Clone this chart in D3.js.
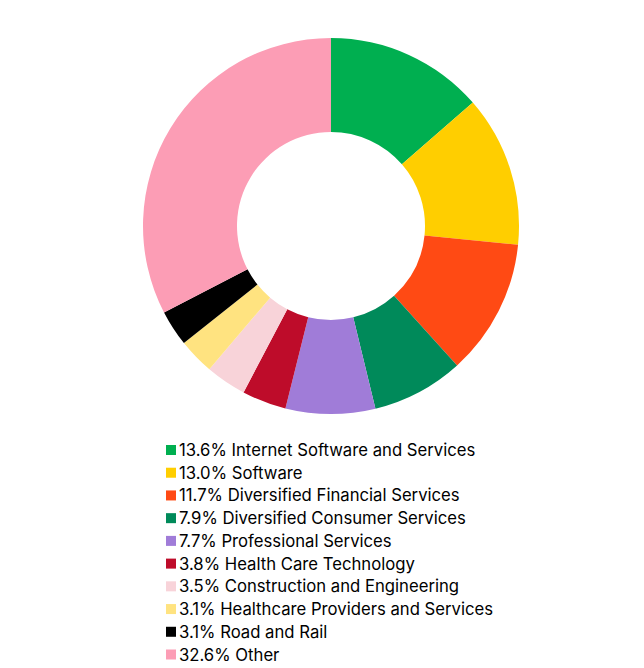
<!DOCTYPE html>
<html><head><meta charset="utf-8">
<script src="https://cdn.jsdelivr.net/npm/d3@7"></script>
<style>body{margin:0;background:#fff;}svg{display:block;}</style>
</head><body>
<svg id="chart" width="644" height="668"></svg>
<script>
const categories = ["Internet Software and Services","Software","Diversified Financial Services","Diversified Consumer Services","Professional Services","Health Care Technology","Construction and Engineering","Healthcare Providers and Services","Road and Rail","Other"];
const values = [13.6,13.0,11.7,7.9,7.7,3.8,3.5,3.1,3.1,32.6];
const colors = ["#00AF50","#FFCE00","#FF4A14","#008A5A","#A07CD8","#BE0C2A","#F8D3D9","#FFE380","#000000","#FC9DB5"];

const svg = d3.select("#chart");
const cx = 331, cy = 226, rOut = 188, rIn = 94;
const data = categories.map((c,i)=>({cat:c,val:values[i],color:colors[i]}));
const pie = d3.pie().value(d=>d.val).sort(null);
const arc = d3.arc().innerRadius(rIn).outerRadius(rOut);
svg.append("g").attr("transform",`translate(${cx},${cy})`)
  .selectAll("path").data(pie(data)).join("path")
  .attr("d",arc).attr("fill",d=>d.data.color);

const y = d3.scalePoint().domain(categories).range([450,654.5]);
const lg = svg.append("g");
const rows = lg.selectAll("g").data(data).join("g")
  .attr("transform",d=>`translate(166,${y(d.cat)})`);
rows.append("rect").attr("x",0).attr("y",-5).attr("width",10).attr("height",10).attr("fill",d=>d.color);
rows.append("text").attr("x",13).attr("y",0).attr("dy","0.36em")
  .attr("font-family","Inter, 'Noto Sans', sans-serif").attr("font-size",16.7).attr("fill","#000")
  .text(d=>d3.format(".1f")(d.val)+"% "+d.cat);
</script>
</body></html>
